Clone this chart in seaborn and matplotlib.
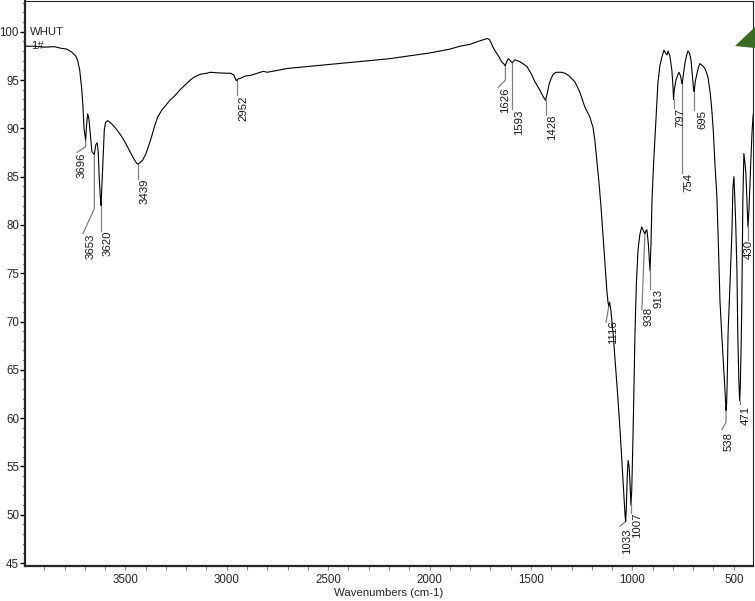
import numpy as np
import matplotlib
matplotlib.use("Agg")
import matplotlib.pyplot as plt
import seaborn as sns
from matplotlib.patches import Polygon

# FTIR spectrum (wavenumber cm-1, %T)
wavenumber = [3995, 3950, 3900, 3850, 3820, 3790, 3765, 3745, 3735, 3725, 3715, 3709, 3704, 3699,
              3696, 3692, 3686, 3680, 3674, 3665, 3658, 3653, 3646, 3639, 3634, 3628, 3622, 3620,
              3616, 3610, 3604, 3598, 3588, 3575, 3560, 3540, 3520, 3500, 3480, 3460, 3445, 3439,
              3430, 3415, 3400, 3385, 3370, 3355, 3340, 3320, 3300, 3280, 3255, 3230, 3205, 3180,
              3160, 3130, 3100, 3080, 3050, 3000, 2980, 2965, 2955, 2952, 2945, 2930, 2910, 2880,
              2850, 2820, 2800, 2750, 2700, 2600, 2500, 2400, 2300, 2200, 2100, 2000, 1950, 1900,
              1850, 1800, 1760, 1730, 1715, 1705, 1695, 1685, 1670, 1655, 1645, 1635, 1628, 1626,
              1620, 1612, 1605, 1598, 1593, 1588, 1578, 1568, 1555, 1540, 1520, 1500, 1480, 1460,
              1440, 1428, 1420, 1410, 1400, 1390, 1375, 1350, 1332, 1310, 1283, 1260, 1234, 1210,
              1194, 1185, 1175, 1165, 1155, 1145, 1135, 1125, 1120, 1116, 1112, 1106, 1095, 1085,
              1071, 1060, 1051, 1042, 1036, 1033, 1030, 1025, 1021, 1016, 1012, 1007, 1003, 998,
              993, 987, 980, 972, 963, 954, 946, 938, 933, 928, 921, 913, 908, 903, 896, 889, 881,
              874, 864, 854, 844, 836, 829, 824, 815, 805, 800, 797, 793, 785, 778, 770, 762, 757,
              754, 750, 741, 733, 726, 718, 711, 704, 698, 695, 690, 681, 674, 667, 655, 642, 627,
              615, 607, 600, 593, 583, 575, 568, 560, 553, 545, 540, 538, 535, 532, 528, 520, 513,
              509, 504, 499, 495, 490, 484, 480, 475, 471, 468, 463, 460, 455, 450, 445, 440, 435,
              430, 425, 420, 415, 410, 405, 400]
transmittance = [98.5, 98.5, 98.4, 98.45, 98.3, 98.2, 97.9, 97.5, 97.0, 96.0, 94.0, 92.2, 90.0, 89.2,
                 88.8, 90.2, 91.5, 91.0, 89.6, 87.6, 87.4, 87.3, 88.3, 88.5, 87.5, 84.5, 82.3, 82.0,
                 84.0, 86.8, 89.8, 90.6, 90.8, 90.6, 90.3, 89.8, 89.2, 88.5, 87.7, 86.9, 86.4, 86.3,
                 86.4, 86.7, 87.3, 88.2, 89.2, 90.3, 91.2, 91.9, 92.4, 92.9, 93.4, 94.0, 94.5, 95.0,
                 95.3, 95.6, 95.7, 95.8, 95.75, 95.7, 95.7, 95.5, 95.0, 94.95, 95.1, 95.2, 95.4, 95.5,
                 95.7, 95.9, 95.8, 96.0, 96.2, 96.4, 96.6, 96.8, 97.0, 97.2, 97.5, 97.8, 98.0, 98.2,
                 98.5, 98.7, 99.0, 99.2, 99.3, 99.2, 98.8, 98.3, 97.8, 97.3, 96.9, 96.7, 96.5, 96.5,
                 96.9, 97.2, 97.1, 96.9, 96.8, 96.9, 97.1, 97.0, 96.9, 96.7, 96.4, 95.7, 94.8, 94.1,
                 93.3, 92.9, 93.6, 94.6, 95.2, 95.6, 95.8, 95.8, 95.7, 95.4, 94.8, 93.8, 92.2, 91.2,
                 90.1, 88.8, 86.7, 84.5, 82.0, 79.0, 76.0, 73.0, 72.0, 71.6, 72.0, 71.2, 68.8, 66.0,
                 62.0, 58.5, 55.3, 52.0, 50.0, 49.3, 50.5, 54.0, 55.6, 55.0, 53.5, 51.0, 52.5, 57.0,
                 62.0, 68.8, 74.0, 77.4, 79.0, 79.8, 79.4, 79.1, 79.4, 79.5, 78.0, 75.3, 78.0, 82.6,
                 86.0, 88.8, 92.0, 94.7, 96.5, 97.4, 98.1, 97.8, 97.6, 98.0, 97.5, 96.0, 94.5, 93.0,
                 94.0, 95.0, 95.4, 95.8, 95.4, 94.8, 94.6, 95.3, 96.7, 97.5, 98.0, 97.8, 97.1, 95.5,
                 94.0, 93.8, 94.8, 95.7, 96.3, 96.7, 96.5, 96.2, 95.3, 93.5, 91.6, 89.5, 86.4, 82.9,
                 77.5, 72.2, 69.0, 66.5, 63.5, 61.5, 60.8, 61.5, 64.0, 68.8, 73.0, 77.0, 79.2, 83.9,
                 85.0, 83.0, 80.0, 75.0, 68.8, 64.0, 61.8, 63.0, 68.0, 72.2, 82.6, 87.4, 86.5, 85.3,
                 82.6, 79.8, 81.5, 84.4, 87.0, 89.5, 91.2, 92.0]

# labelled peaks
peak_wn = [3696, 3653, 3620, 3439, 2952, 1626, 1593, 1428, 1116, 1033, 1007, 938, 913,
           797, 754, 695, 538, 471, 430]
peak_labels = [str(p) for p in peak_wn]

# leader/label layout: (leader bend %T or None, leader end (wn, %T) or None, text (wn, %T top))
label_layout = {
    3696: (88.1, (3739, 87.5), (3714, 87.5)),
    3653: (81.7, (3709, 79.1), (3674, 79.1)),
    3620: (79.4, None, (3586, 79.4)),
    3439: (84.8, None, (3408, 84.8)),
    2952: (93.4, None, (2918, 93.4)),
    1626: (95.0, (1663, 94.2), (1628, 94.2)),
    1593: (92.0, None, (1559, 91.9)),
    1428: (91.4, None, (1396, 91.4)),
    1116: (None, (1130, 69.9), (1096, 70.1)),
    1033: (None, (1061, 48.8), (1027, 48.6)),
    1007: (50.2, None, (977, 50.2)),
    938: (None, (953, 71.2), (920, 71.5)),
    913: (73.4, None, (871, 73.4)),
    797: (92.1, None, (765, 92.1)),
    754: (85.4, None, (721, 85.4)),
    695: (91.9, None, (657, 91.9)),
    538: (59.6, (558, 58.8), (524, 58.6)),
    471: (61.5, None, (440, 61.3)),
    430: (78.4, None, (424, 78.4)),
}

sns.set_style("ticks")
plt.rcParams['font.family'] = ['Liberation Sans', 'DejaVu Sans']

fig = plt.figure(figsize=(7.55, 6.01), dpi=100)
ax = fig.add_axes([25 / 755, 35 / 601, 728 / 755, 565 / 601])

sns.lineplot(x=wavenumber, y=transmittance, sort=False, color='black', linewidth=0.8, ax=ax, zorder=3)

# peak markers
wn_asc = np.array(wavenumber[::-1])
t_asc = np.array(transmittance[::-1])
for p, lab in zip(peak_wn, peak_labels):
    bend, end, (tx, ty) = label_layout[p]
    dip = np.interp(p, wn_asc, t_asc)
    xs, ys = [p], [dip]
    if bend is not None:
        xs.append(p)
        ys.append(bend)
    if end is not None:
        xs.append(end[0])
        ys.append(end[1])
    ax.plot(xs, ys, color='#808080', linewidth=0.9, zorder=2)
    ax.text(tx, ty, lab, rotation=90, ha='center', va='top', fontsize=8.2, color='#1a1a1a')

ax.set_xlim(3995, 405)
ax.set_ylim(44.69, 103.18)
ax.set_xticks(np.arange(500, 3501, 500))
ax.set_xticks(np.arange(500, 3901, 100), minor=True)
ax.set_yticks(np.arange(45, 101, 5))
ax.set_yticks(np.arange(45, 104, 1), minor=True)

ax.tick_params(axis='y', which='major', length=3.3, width=1.0, pad=1, labelsize=8.3, color='black')
ax.tick_params(axis='y', which='minor', length=1.8, width=0.8, color='black')
ax.tick_params(axis='x', which='both', length=3, width=0.8, color='#888888', pad=3, labelsize=8.3)

for s in ['left', 'bottom']:
    ax.spines[s].set_linewidth(1.6)
for s in ['top', 'right']:
    ax.spines[s].set_linewidth(0.8)

ax.set_xlabel('Wavenumbers (cm-1)', fontsize=8.2, labelpad=1)
ax.set_ylabel('')

ax.text(30 / 755, 1 - 27 / 601, 'WHUT', transform=fig.transFigure, fontsize=8.2, ha='left', va='top', zorder=1)
ax.text(31 / 755, 1 - 41 / 601, '1#', transform=fig.transFigure, fontsize=8.2, ha='left', va='top', zorder=1)

# green corner marker seen in the original screenshot
tri = Polygon([(735 / 755, 1 - 46 / 601), (1.0, 1 - 27 / 601), (1.0, 1 - 48 / 601)],
              closed=True, transform=fig.transFigure, facecolor='#3b6a23', edgecolor='none')
fig.patches.append(tri)

fig.savefig('out.png', dpi=100)
